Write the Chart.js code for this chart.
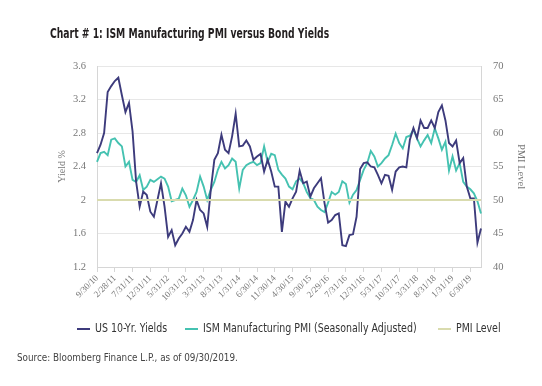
<!DOCTYPE html>
<html>
<head>
<meta charset="utf-8">
<script src="https://cdn.jsdelivr.net/npm/chart.js@4.4.0/dist/chart.umd.min.js"></script>
<style>
    html, body { margin: 0; padding: 0; background: #fff; }
    #wrap { position: relative; width: 542px; height: 386px; overflow: hidden; }
    #chart { position: absolute; left: 0; top: 0; }
    .cond { font-family: 'Liberation Sans Narrow', 'DejaVu Sans Condensed', 'Roboto', sans-serif; white-space: nowrap; transform-origin: 0 50%; }
    #title { position: absolute; left: 50px; top: 25px; font-size: 13.5px; font-weight: bold; color: #231f20; transform: scaleX(0.76); }
    .swatch { position: absolute; width: 13px; height: 2px; top: 328px; }
    .ltext { position: absolute; top: 321px; font-size: 12px; color: #333; transform: scaleX(0.875); }
    #source { position: absolute; left: 17px; top: 352px; font-size: 10px; color: #444; transform: scaleX(0.98); }
</style>
</head>
<body>
<div id="wrap">
    <canvas id="chart" width="542" height="386"></canvas>
    <div id="title" class="cond">Chart # 1: ISM Manufacturing PMI versus Bond Yields</div>
    <div id="legend"></div>
    <div id="source" class="cond">Source: Bloomberg Finance L.P., as of 09/30/2019.</div>
</div>
<script>
// --- Datos (fin de mes, 9/30/10 a 9/30/19) ---
const months = [
    '9/30/10', '10/31/10', '11/30/10', '12/31/10',
    '1/31/11', '2/28/11', '3/31/11', '4/30/11', '5/31/11', '6/30/11', '7/31/11', '8/31/11', '9/30/11', '10/31/11', '11/30/11', '12/31/11',
    '1/31/12', '2/29/12', '3/31/12', '4/30/12', '5/31/12', '6/30/12', '7/31/12', '8/31/12', '9/30/12', '10/31/12', '11/30/12', '12/31/12',
    '1/31/13', '2/28/13', '3/31/13', '4/30/13', '5/31/13', '6/30/13', '7/31/13', '8/31/13', '9/30/13', '10/31/13', '11/30/13', '12/31/13',
    '1/31/14', '2/28/14', '3/31/14', '4/30/14', '5/31/14', '6/30/14', '7/31/14', '8/31/14', '9/30/14', '10/31/14', '11/30/14', '12/31/14',
    '1/31/15', '2/28/15', '3/31/15', '4/30/15', '5/31/15', '6/30/15', '7/31/15', '8/31/15', '9/30/15', '10/31/15', '11/30/15', '12/31/15',
    '1/31/16', '2/29/16', '3/31/16', '4/30/16', '5/31/16', '6/30/16', '7/31/16', '8/31/16', '9/30/16', '10/31/16', '11/30/16', '12/31/16',
    '1/31/17', '2/28/17', '3/31/17', '4/30/17', '5/31/17', '6/30/17', '7/31/17', '8/31/17', '9/30/17', '10/31/17', '11/30/17', '12/31/17',
    '1/31/18', '2/28/18', '3/31/18', '4/30/18', '5/31/18', '6/30/18', '7/31/18', '8/31/18', '9/30/18', '10/31/18', '11/30/18', '12/31/18',
    '1/31/19', '2/28/19', '3/31/19', '4/30/19', '5/31/19', '6/30/19', '7/31/19', '8/31/19', '9/30/19'
];

const tickLabels = [
    '9/30/10', '2/28/11', '7/31/11', '12/31/11', '5/31/12', '10/31/12', '3/31/13', '8/31/13',
    '1/31/14', '6/30/14', '11/30/14', '4/30/15', '9/30/15', '2/29/16', '7/31/16', '12/31/16',
    '5/31/17', '10/31/17', '3/31/18', '8/31/18', '1/31/19', '6/30/19'
];

// US 10-Yr. Yields (%)
const yields = [
    2.56, 2.66, 2.80, 3.29,
    3.36, 3.42, 3.46, 3.25, 3.05, 3.16, 2.82, 2.22, 1.92, 2.10, 2.06, 1.86,
    1.80, 2.00, 2.20, 1.92, 1.56, 1.64, 1.46, 1.54, 1.60, 1.68, 1.62, 1.76,
    2.00, 1.88, 1.84, 1.68, 2.12, 2.48, 2.56, 2.78, 2.60, 2.56, 2.76, 3.03,
    2.64, 2.65, 2.71, 2.64, 2.48, 2.52, 2.55, 2.34, 2.48, 2.34, 2.16, 2.16,
    1.62, 1.98, 1.92, 2.02, 2.10, 2.35, 2.20, 2.22, 2.04, 2.14, 2.20, 2.26,
    1.96, 1.73, 1.76, 1.82, 1.84, 1.46, 1.45, 1.58, 1.59, 1.80, 2.37, 2.44,
    2.45, 2.40, 2.39, 2.30, 2.20, 2.30, 2.29, 2.12, 2.34, 2.39, 2.40, 2.39,
    2.72, 2.86, 2.74, 2.95, 2.86, 2.86, 2.95, 2.86, 3.05, 3.13, 2.95, 2.68,
    2.64, 2.71, 2.44, 2.50, 2.16, 2.02, 2.02, 1.49, 1.66
];

// ISM Manufacturing PMI (Seasonally Adjusted)
const pmi = [
    55.7, 57.0, 57.2, 56.7,
    59.0, 59.2, 58.5, 58.0, 55.0, 55.7, 53.0, 52.7, 53.7, 51.5, 52.0, 53.0,
    52.7, 53.1, 53.5, 53.2, 52.0, 49.8, 50.0, 50.2, 51.7, 50.7, 49.0, 50.0,
    51.2, 53.5, 52.0, 50.0, 51.5, 52.7, 54.5, 55.7, 54.7, 55.2, 56.2, 55.7,
    51.7, 54.5, 55.2, 55.5, 55.7, 55.2, 55.5, 58.0, 55.7, 56.9, 56.7, 54.5,
    53.8, 53.2, 52.0, 51.6, 52.8, 53.2, 52.5, 51.2, 50.3, 50.0, 49.0, 48.5,
    48.2, 49.6, 51.2, 50.8, 51.2, 52.8, 52.4, 49.6, 50.8, 51.5, 53.0, 54.5,
    55.5, 57.3, 56.5, 55.0, 55.5, 56.2, 56.7, 58.2, 59.9, 58.5, 57.7, 59.4,
    59.6, 60.5, 59.2, 58.0, 58.9, 59.7, 58.5, 60.7, 59.2, 57.5, 58.7, 54.4,
    56.5, 54.4, 55.5, 52.7, 52.0, 51.6, 51.0, 49.8, 48.0
];

const pmiLevel = 50;

// --- Colores ---
const NAVY = '#3d3b7c';
const TEAL = '#45c2b1';
const KHAKI = '#d9dbae';
const GRID = '#e7e7e7';
const AXIS = '#d6d6d6';
const TICK = '#777';
const SERIF = "'Liberation Serif', 'DejaVu Serif', serif";

// --- Leyenda HTML ---
const legendItems = [
    { text: 'US 10-Yr. Yields', color: NAVY, left: 77 },
    { text: 'ISM Manufacturing PMI (Seasonally Adjusted)', color: TEAL, left: 185 },
    { text: 'PMI Level', color: KHAKI, left: 438 }
];
const legend = document.getElementById('legend');
legendItems.forEach(it => {
    const sw = document.createElement('div');
    sw.className = 'swatch';
    sw.style.left = it.left + 'px';
    sw.style.background = it.color;
    const tx = document.createElement('div');
    tx.className = 'ltext cond';
    tx.style.left = (it.left + 18) + 'px';
    tx.textContent = it.text;
    legend.appendChild(sw);
    legend.appendChild(tx);
});

// --- Gráfico ---
const ctx = document.getElementById('chart').getContext('2d');
const chart = new Chart(ctx, {
    type: 'line',
    data: {
        labels: months,
        datasets: [
            {
                label: 'PMI Level',
                data: [{ x: months[0], y: pmiLevel }, { x: months[months.length - 1], y: pmiLevel }],
                yAxisID: 'y1',
                borderColor: KHAKI,
                borderWidth: 2,
                pointRadius: 0
            },
            {
                label: 'US 10-Yr. Yields',
                data: yields,
                yAxisID: 'y',
                borderColor: NAVY,
                borderWidth: 1.9,
                pointRadius: 0,
                tension: 0
            },
            {
                label: 'ISM Manufacturing PMI (Seasonally Adjusted)',
                data: pmi,
                yAxisID: 'y1',
                borderColor: TEAL,
                borderWidth: 1.9,
                pointRadius: 0,
                tension: 0
            }
        ]
    },
    options: {
        responsive: false,
        animation: false,
        layout: { padding: { top: 66, bottom: 79, left: 0, right: 0 } },
        plugins: {
            legend: { display: false },
            tooltip: { enabled: false }
        },
        scales: {
            x: {
                type: 'category',
                offset: false,
                grid: {
                    drawOnChartArea: false,
                    drawTicks: true,
                    tickLength: 5,
                    color: (c) => tickLabels.includes(months[c.index]) ? AXIS : 'rgba(0,0,0,0)'
                },
                border: { color: AXIS },
                ticks: {
                    autoSkip: false,
                    maxRotation: 45,
                    minRotation: 45,
                    padding: 1,
                    color: TICK,
                    font: { family: SERIF, size: 9 },
                    callback: (v, i) => tickLabels.includes(months[i]) ? months[i] : ''
                },
                afterFit: (s) => { s.height = 40; }
            },
            y: {
                position: 'left',
                min: 1.2,
                max: 3.6,
                grid: { color: GRID, drawTicks: false },
                border: { color: AXIS },
                ticks: {
                    stepSize: 0.4,
                    padding: 11,
                    color: TICK,
                    font: { family: SERIF, size: 10.5 },
                    callback: (v) => +v.toFixed(1)
                },
                title: {
                    display: true,
                    text: 'Yield %',
                    color: TICK,
                    font: { family: SERIF, size: 10 },
                    padding: { top: 56 }
                },
                afterFit: (s) => { s.width = 97; }
            },
            y1: {
                position: 'right',
                min: 40,
                max: 70,
                grid: { drawOnChartArea: false, drawTicks: false },
                border: { color: AXIS },
                ticks: {
                    stepSize: 5,
                    padding: 12,
                    color: TICK,
                    font: { family: SERIF, size: 10.5 }
                },
                title: {
                    display: true,
                    text: 'PMI Level',
                    color: TICK,
                    font: { family: SERIF, size: 10.5 },
                    padding: { top: 15 }
                },
                afterFit: (s) => { s.width = 61; }
            }
        }
    }
});
</script>
</body>
</html>
